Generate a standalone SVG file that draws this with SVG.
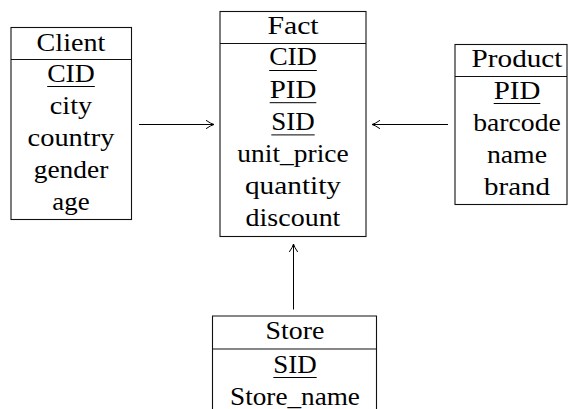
<svg xmlns="http://www.w3.org/2000/svg" width="568" height="409" viewBox="0 0 568 409">
<style>
text{font-family:'Liberation Serif','Times New Roman',serif;font-size:26px;fill:#000;text-anchor:middle}
.box{fill:#fff;stroke:#111;stroke-width:1.1}
.sep{stroke:#111;stroke-width:1.1}
.ul{stroke:#000;stroke-width:1}
.conn{stroke:#000;stroke-width:1;fill:none}
</style>
<defs>
<marker id="ah" markerUnits="userSpaceOnUse" markerWidth="20" markerHeight="20" viewBox="-10 -10 20 20" refX="0" refY="0" orient="auto">
<path d="M -8 -4.2 Q -3 -0.8 0 0 Q -3 0.8 -8 4.2" fill="none" stroke="#000" stroke-width="1"/>
</marker>
</defs>
<rect width="568" height="409" fill="#fff"/>
<g id="connectors">
<line class="conn" x1="139" y1="124.5" x2="214" y2="124.5" marker-end="url(#ah)"/>
<line class="conn" x1="448" y1="124.5" x2="372" y2="124.5" marker-end="url(#ah)"/>
<line class="conn" x1="293.5" y1="309.5" x2="293.5" y2="244" marker-end="url(#ah)"/>
</g>
<g id="client">
<rect class="box" x="11" y="27.5" width="120.5" height="192"/>
<line class="sep" x1="11" y1="59.5" x2="131.5" y2="59.5"/>
<text x="71" y="50.5" textLength="68.8" lengthAdjust="spacingAndGlyphs">Client</text>
<text x="71" y="81.5" textLength="47.7" lengthAdjust="spacingAndGlyphs">CID</text>
<line class="ul" x1="47.2" y1="86.5" x2="94.8" y2="86.5"/>
<text x="71" y="113.5" textLength="42.3" lengthAdjust="spacingAndGlyphs">city</text>
<text x="71" y="145.5" textLength="86.8" lengthAdjust="spacingAndGlyphs">country</text>
<text x="71" y="177.5" textLength="74.6" lengthAdjust="spacingAndGlyphs">gender</text>
<text x="71" y="209.5" textLength="37.3" lengthAdjust="spacingAndGlyphs">age</text>
</g>
<g id="fact">
<rect class="box" x="220" y="11.5" width="146" height="225"/>
<line class="sep" x1="220" y1="43.5" x2="366" y2="43.5"/>
<text x="293" y="33.5" textLength="51.2" lengthAdjust="spacingAndGlyphs">Fact</text>
<text x="293" y="65.3" textLength="47.7" lengthAdjust="spacingAndGlyphs">CID</text>
<line class="ul" x1="269.2" y1="70.5" x2="316.8" y2="70.5"/>
<text x="293" y="97.5" textLength="46.6" lengthAdjust="spacingAndGlyphs">PID</text>
<line class="ul" x1="269.7" y1="102.7" x2="316.3" y2="102.7"/>
<text x="293" y="129.7" textLength="43.4" lengthAdjust="spacingAndGlyphs">SID</text>
<line class="ul" x1="271.3" y1="134.9" x2="314.7" y2="134.9"/>
<text x="293" y="161.9" textLength="111.3" lengthAdjust="spacingAndGlyphs">unit_price</text>
<text x="293" y="194.1" textLength="96.1" lengthAdjust="spacingAndGlyphs">quantity</text>
<text x="293" y="226.3" textLength="94.8" lengthAdjust="spacingAndGlyphs">discount</text>
</g>
<g id="product">
<rect class="box" x="455" y="44.5" width="112" height="160"/>
<line class="sep" x1="455" y1="76.5" x2="567" y2="76.5"/>
<text x="517" y="66.5" textLength="90.8" lengthAdjust="spacingAndGlyphs">Product</text>
<text x="517" y="98.5" textLength="46.6" lengthAdjust="spacingAndGlyphs">PID</text>
<line class="ul" x1="493.7" y1="103.5" x2="540.3" y2="103.5"/>
<text x="517" y="130.5" textLength="87.5" lengthAdjust="spacingAndGlyphs">barcode</text>
<text x="517" y="162.5" textLength="60.2" lengthAdjust="spacingAndGlyphs">name</text>
<text x="517" y="194.5" textLength="66" lengthAdjust="spacingAndGlyphs">brand</text>
</g>
<g id="store">
<path class="box" d="M 212.5 415 V 316 H 376.5 V 415"/>
<line class="sep" x1="212.5" y1="349" x2="376.5" y2="349"/>
<text x="295" y="339" textLength="58.8" lengthAdjust="spacingAndGlyphs">Store</text>
<text x="295" y="372.5" textLength="43.4" lengthAdjust="spacingAndGlyphs">SID</text>
<line class="ul" x1="273.3" y1="377.5" x2="316.7" y2="377.5"/>
<text x="295" y="404.5" textLength="129.9" lengthAdjust="spacingAndGlyphs">Store_name</text>
</g>
</svg>
